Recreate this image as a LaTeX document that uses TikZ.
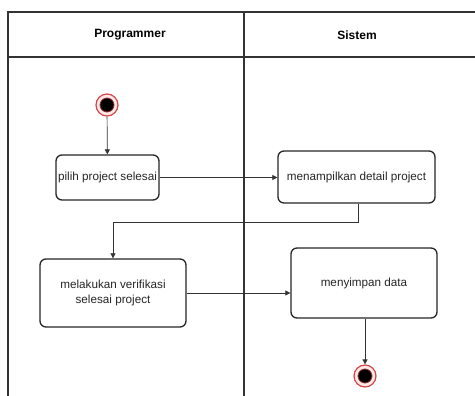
\documentclass[tikz,border=0pt]{standalone}
\usepackage{fontspec}
\setmainfont{Liberation Sans}
\usetikzlibrary{arrows.meta}
\definecolor{lane}{HTML}{333333}
\definecolor{ring}{HTML}{D64545}
\tikzset{
  lanes/.style={draw=lane, line width=1.4pt},
  act/.style={draw=black!85, line width=1.3pt, rounded corners=6pt, fill=white,
    align=center, font=\fontsize{11.7}{15}\selectfont, text=black!85, inner sep=0pt},
  flow/.style={draw=black!80, line width=0.7pt, -{Triangle[length=5pt,width=5pt]}},
  header/.style={font=\fontsize{12}{14}\selectfont\bfseries},
  ringout/.style={circle, draw=ring, line width=1.2pt, fill=ring!12, minimum size=22pt, inner sep=0pt},
  ringin/.style={circle, draw=ring!70!black, line width=0.8pt, fill=black, minimum size=14pt, inner sep=0pt}
}
\begin{document}
\begin{tikzpicture}[x=1pt,y=-1pt]
\useasboundingbox (0,0) rectangle (475,396);
\clip (0,0) rectangle (475,396);
% swimlane frame
\draw[lanes] (8,400) -- (8,12) -- (480,12);
\draw[lanes] (8,57) -- (480,57);
\draw[lanes] (244,12) -- (244,400);
\node[header] (hprog) at (130,35) {Programmer};
\node[header] (hsis) at (357,35) {Sistem};
% start state
\node[ringout] (start) at (107,105) {};
\node[ringin] at (start) {};
% activities
\node[act, minimum width=103pt, minimum height=45pt] (pilih) at (107.5,177.5) {pilih project selesai};
\node[act, minimum width=157pt, minimum height=52pt] (tampil) at (356.5,177) {menampilkan detail project};
\node[act, minimum width=146pt, minimum height=68pt] (verif) at (113,293) {melakukan verifikasi\\selesai project};
\node[act, minimum width=146pt, minimum height=70pt] (simpan) at (364,283) {menyimpan data};
% end state
\node[ringout] (end) at (365,376) {};
\node[ringin] at (end) {};
% transitions
\draw[flow] (start) -- (pilih);
\draw[flow] (pilih.east) -- (tampil.west |- pilih.east);
\draw[flow] (tampil.south -| 358,0) -- (358,222) -| (verif.north);
\draw[flow] (verif.east) -- (simpan.west |- verif.east);
\draw[flow] (simpan.south -| end) -- (end);
\end{tikzpicture}
\end{document}
